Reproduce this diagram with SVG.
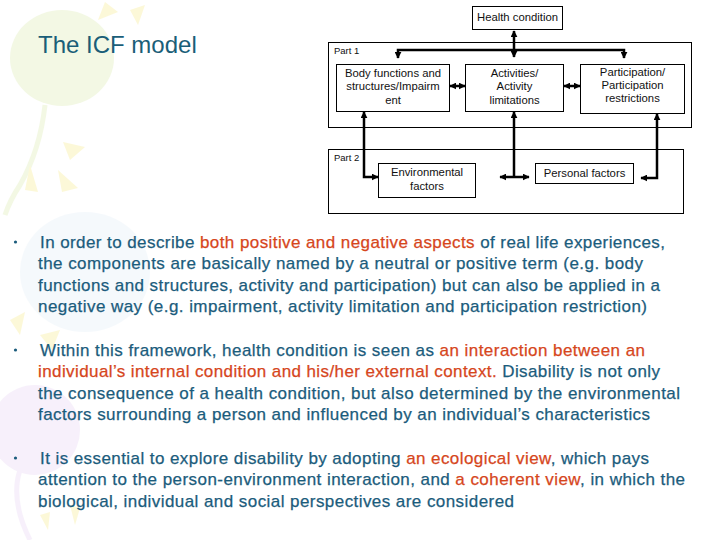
<svg xmlns="http://www.w3.org/2000/svg" width="720" height="540" viewBox="0 0 720 540">
<style>
.box{fill:#fff;stroke:#000;stroke-width:1}
.part{fill:none;stroke:#000;stroke-width:1}
.lbl{font-family:"Liberation Sans",Arial,sans-serif;font-size:11.3px;fill:#111;text-anchor:middle}
.plbl{font-family:"Liberation Sans",Arial,sans-serif;font-size:9.5px;fill:#111}
.con{fill:none;stroke:#000;stroke-width:2.5}
.body{font-family:"Liberation Sans",Arial,sans-serif;font-size:17px;fill:#1b5c7c;stroke:#1b5c7c;stroke-width:0.25}
.red{fill:#d6461c;stroke:#d6461c}
.deco{opacity:0.4}
</style>
<defs>
<marker id="ah" viewBox="0 0 10 10" refX="9" refY="5" markerWidth="7" markerHeight="7" markerUnits="userSpaceOnUse" orient="auto-start-reverse">
<path d="M0,0 L10,5 L0,10 z" fill="#000"/>
</marker>
</defs>
<rect width="720" height="540" fill="#fff"/>
<g id="background" class="deco">
<ellipse cx="62" cy="58" rx="52" ry="48" fill="#e2efbd"/>
<path d="M45,105 Q40,150 20,185 Q10,200 5,215" fill="none" stroke="#e2efbd" stroke-width="5"/>
<polygon points="105,2 118,12 98,20" fill="#faf0a0"/>
<polygon points="130,10 145,5 138,25" fill="#faf0a0"/>
<polygon points="63,142 85,147 70,160" fill="#faf0a0"/>
<polygon points="30,165 38,192 25,190" fill="#faf0a0"/>
<polygon points="58,170 78,188 62,192" fill="#faf0a0"/>
<ellipse cx="85" cy="272" rx="65" ry="60" fill="#e8f2fa"/>
<polygon points="10,320 25,312 20,335" fill="#faf0a0"/>
<polygon points="40,335 60,330 52,350" fill="#faf0a0"/>
<ellipse cx="35" cy="430" rx="45" ry="45" fill="#ecdcf6"/>
<path d="M20,470 Q10,500 30,540" fill="none" stroke="#ecdcf6" stroke-width="5"/>
<polygon points="40,515 50,512 48,530" fill="#faf0a0"/>
<polygon points="70,505 80,508 75,525" fill="#faf0a0"/>
</g>
<g id="title">
<text x="38" y="53" font-family="'Liberation Sans',Arial,sans-serif" font-size="24" fill="#1a5e78">The ICF model</text>
</g>
<g id="part1">
<rect class="part" x="328.5" y="42.5" width="363" height="85"/>
<text class="plbl" x="334" y="54">Part 1</text>
</g>
<g id="part2">
<rect class="part" x="328.5" y="149.5" width="355" height="64"/>
<text class="plbl" x="334" y="161">Part 2</text>
</g>
<g id="health">
<rect class="box" x="472.5" y="6.5" width="90" height="23"/>
<text class="lbl" x="517.5" y="21">Health condition</text>
</g>
<g id="body">
<rect class="box" x="336.5" y="64.5" width="113" height="47"/>
<text class="lbl" x="393" y="77">Body functions and</text>
<text class="lbl" x="393" y="90">structures/Impairm</text>
<text class="lbl" x="393" y="104">ent</text>
</g>
<g id="activities">
<rect class="box" x="465.5" y="64.5" width="98" height="47"/>
<text class="lbl" x="514.5" y="77">Activities/</text>
<text class="lbl" x="514.5" y="90">Activity</text>
<text class="lbl" x="514.5" y="104">limitations</text>
</g>
<g id="participation">
<rect class="box" x="580.5" y="64.5" width="104" height="49"/>
<text class="lbl" x="632.5" y="76">Participation/</text>
<text class="lbl" x="632.5" y="89">Participation</text>
<text class="lbl" x="632.5" y="102">restrictions</text>
</g>
<g id="environmental">
<rect class="box" x="378.5" y="163.5" width="97" height="34"/>
<text class="lbl" x="427" y="176">Environmental</text>
<text class="lbl" x="427" y="190">factors</text>
</g>
<g id="personal">
<rect class="box" x="535.5" y="163.5" width="98" height="20"/>
<text class="lbl" x="584.5" y="177">Personal factors</text>
</g>
<g id="connectors">
<path class="con" d="M514,31 V57" marker-start="url(#ah)" marker-end="url(#ah)"/>
<path class="con" d="M398,58 V50 H624 V58" marker-start="url(#ah)" marker-end="url(#ah)"/>
<path class="con" d="M450,86 H465" marker-start="url(#ah)" marker-end="url(#ah)"/>
<path class="con" d="M564,86 H580" marker-start="url(#ah)" marker-end="url(#ah)"/>
<path class="con" d="M364,112 V177 H378" marker-start="url(#ah)" marker-end="url(#ah)"/>
<path class="con" d="M514,112 V177" marker-start="url(#ah)"/>
<path class="con" d="M500,177 H529" marker-start="url(#ah)" marker-end="url(#ah)"/>
<path class="con" d="M657,114 V178 H641" marker-start="url(#ah)" marker-end="url(#ah)"/>
</g>
<g id="text">
<circle cx="15.5" cy="242" r="1.6" fill="#1b5c7c"/>
<text class="body" x="40" y="248" textLength="625" lengthAdjust="spacing">In order to describe <tspan class="red">both positive and negative aspects</tspan> of real life experiences,</text>
<text class="body" x="38" y="269" textLength="605" lengthAdjust="spacing">the components are basically named by a neutral or positive term (e.g. body</text>
<text class="body" x="38" y="291" textLength="622" lengthAdjust="spacing">functions and structures, activity and participation) but can also be applied in a</text>
<text class="body" x="38" y="312" textLength="609" lengthAdjust="spacing">negative way (e.g. impairment, activity limitation and  participation restriction)</text>
<circle cx="15.5" cy="350" r="1.6" fill="#1b5c7c"/>
<text class="body" x="40" y="356" textLength="605" lengthAdjust="spacing">Within this framework, health condition is seen as <tspan class="red">an interaction between an</tspan></text>
<text class="body" x="38" y="377" textLength="622" lengthAdjust="spacing"><tspan class="red">individual’s internal condition and his/her external context.</tspan> Disability is not only</text>
<text class="body" x="38" y="399" textLength="642" lengthAdjust="spacing">the consequence of a health condition, but also determined by the environmental</text>
<text class="body" x="38" y="420" textLength="612" lengthAdjust="spacing">factors surrounding a person and influenced by an individual’s characteristics</text>
<circle cx="15.5" cy="458" r="1.6" fill="#1b5c7c"/>
<text class="body" x="40" y="464" textLength="609" lengthAdjust="spacing">It is essential to explore disability by adopting <tspan class="red">an ecological view</tspan>, which pays</text>
<text class="body" x="38" y="485" textLength="647" lengthAdjust="spacing">attention to the person-environment interaction, and <tspan class="red">a coherent view</tspan>, in which the</text>
<text class="body" x="38" y="507" textLength="476" lengthAdjust="spacing">biological, individual and social perspectives are considered</text>
</g>
</svg>
